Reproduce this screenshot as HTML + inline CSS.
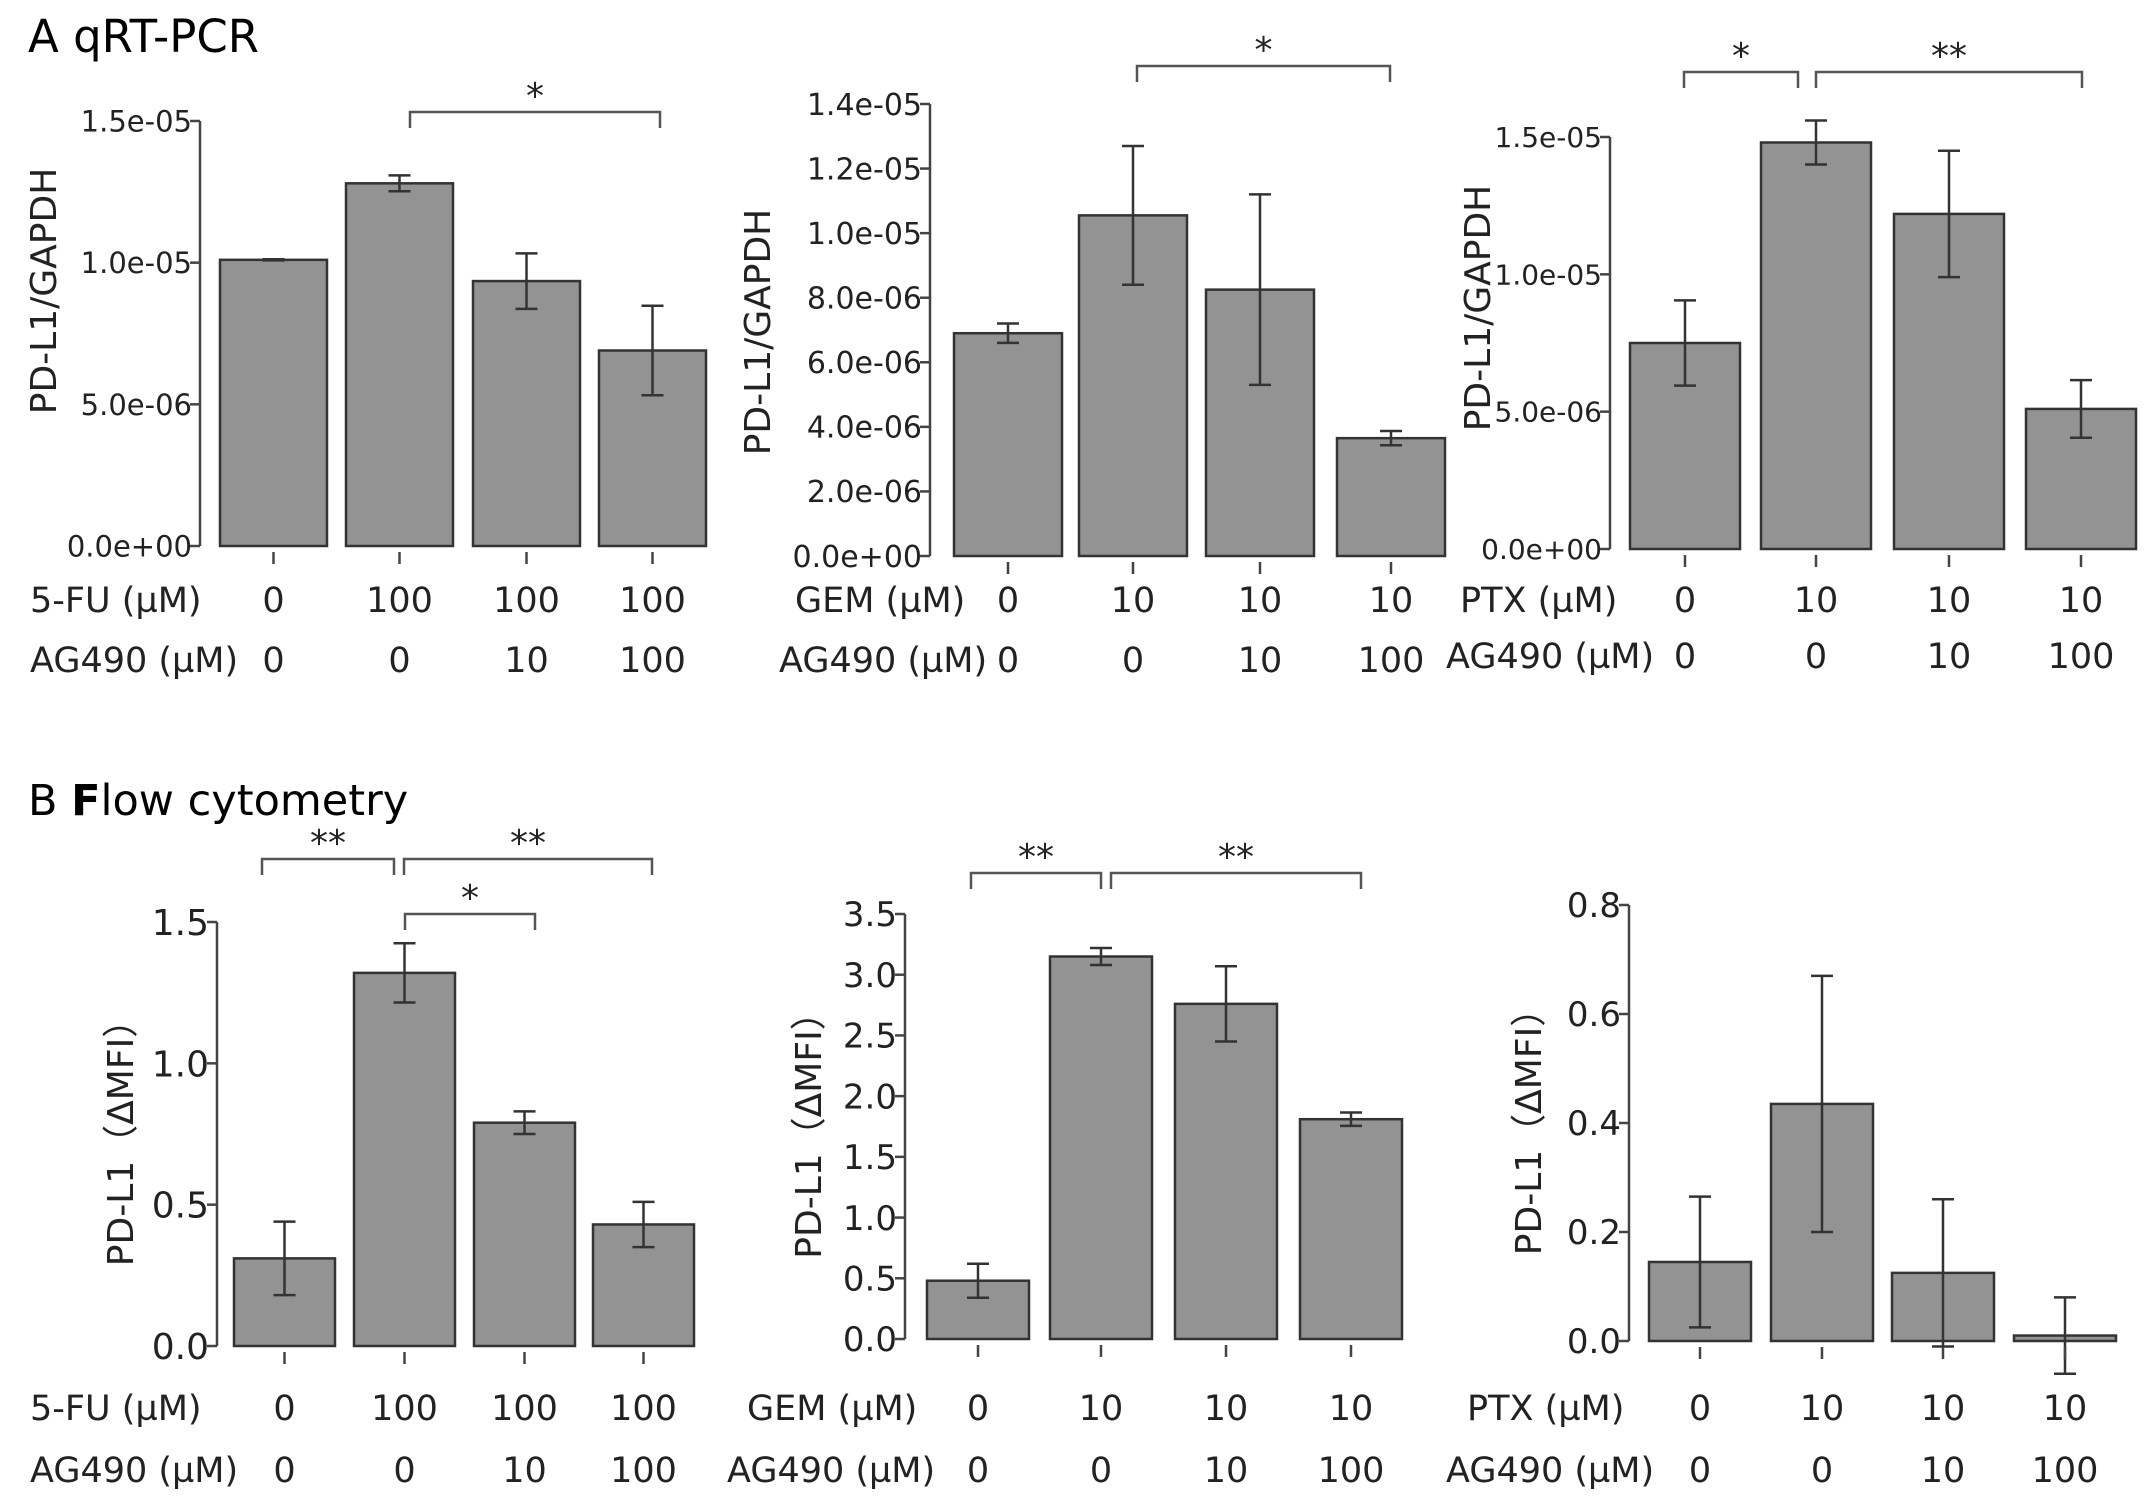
<!DOCTYPE html>
<html><head><meta charset="utf-8"><style>
html,body{margin:0;padding:0;background:#fff;}
svg{display:block;font-family:"DejaVu Sans","Liberation Sans",sans-serif;}
</style></head><body>
<svg id="fig" width="2150" height="1508" viewBox="0 0 2150 1508" xmlns="http://www.w3.org/2000/svg">
<text x="28" y="52" font-size="45">A  qRT-PCR</text>
<text x="28" y="815" font-size="43">B  <tspan font-weight="bold">F</tspan>low cytometry</text>
</svg>
<script>
// ---- data ----
const a1Values=[10.1e-6,12.8e-6,9.35e-6,6.9e-6];
const a1Err=[0.02e-6,0.28e-6,0.98e-6,1.58e-6];
const a1Ticks=[0,5e-6,1e-5,1.5e-5];
const a1TickLabels=["0.0e+00","5.0e-06","1.0e-05","1.5e-05"];
const a2Values=[6.9e-6,10.55e-6,8.25e-6,3.65e-6];
const a2Err=[0.3e-6,2.15e-6,2.95e-6,0.22e-6];
const a2Ticks=[0,2e-6,4e-6,6e-6,8e-6,1e-5,1.2e-5,1.4e-5];
const a2TickLabels=["0.0e+00","2.0e-06","4.0e-06","6.0e-06","8.0e-06","1.0e-05","1.2e-05","1.4e-05"];
const a3Values=[7.5e-6,14.8e-6,12.2e-6,5.1e-6];
const a3Err=[1.55e-6,0.8e-6,2.3e-6,1.05e-6];
const a3Ticks=[0,5e-6,1e-5,1.5e-5];
const a3TickLabels=["0.0e+00","5.0e-06","1.0e-05","1.5e-05"];
const b1Values=[0.31,1.32,0.79,0.43];
const b1Err=[0.13,0.105,0.04,0.08];
const b1Ticks=[0,0.5,1.0,1.5];
const b1TickLabels=["0.0","0.5","1.0","1.5"];
const b2Values=[0.48,3.15,2.76,1.81];
const b2Err=[0.14,0.07,0.31,0.055];
const b2Ticks=[0,0.5,1,1.5,2,2.5,3,3.5];
const b2TickLabels=["0.0","0.5","1.0","1.5","2.0","2.5","3.0","3.5"];
const b3Values=[0.145,0.435,0.125,0.01];
const b3Err=[0.12,0.235,0.135,0.07];
const b3Ticks=[0,0.2,0.4,0.6,0.8];
const b3TickLabels=["0.0","0.2","0.4","0.6","0.8"];
const drugFU=["0","100","100","100"];
const drugGEM=["0","10","10","10"];
const drugPTX=["0","10","10","10"];
const ag490=["0","0","10","100"];

const NS="http://www.w3.org/2000/svg";
const svg=document.getElementById('fig');
function mk(tag,attrs,parent,text){const e=document.createElementNS(NS,tag);for(const k in attrs)e.setAttribute(k,attrs[k]);if(text!==undefined)e.textContent=text;(parent||svg).appendChild(e);return e;}

function chart(c){
  const g=mk('g',{},svg);
  
  
  const max=c.ticks[c.ticks.length-1];
  const y=v=>c.y0-(v/max)*(c.y0-c.yTop);
  const ax=mk('line',{x1:c.ax,y1:y(0),x2:c.ax,y2:y(max),stroke:'#444','stroke-width':2.5},g);
  
  
  c.ticks.forEach((t,i)=>{
    mk('line',{x1:c.ax-10,y1:y(t),x2:c.ax,y2:y(t),stroke:'#444','stroke-width':2.5},g);
    const tl=mk('text',{x:c.ax-8,y:y(t)+c.tfs*0.36,'font-size':c.tfs,'text-anchor':'end',fill:'#222'},g,c.tickLabels[i]);
    
    
  });
  const yc=c.ylc||(c.y0+c.yTop)/2;
  const yl=mk('text',{x:c.ylx,y:yc,'font-size':c.yfs,'text-anchor':'middle',fill:'#222',transform:`rotate(-90 ${c.ylx} ${yc})`},g,c.ylabel);
  
  
  c.values.forEach((v,i)=>{
    const x0=c.bx[i], w=c.bw, cx=x0+w/2;
    const r=mk('rect',{x:x0,y:y(v),width:w,height:y(0)-y(v),fill:'#939393',stroke:'#333','stroke-width':2.5},g);
    
    
    const e=c.err[i];
    const eg=mk('g',{stroke:'#333','stroke-width':2.5},g);
    
    
    mk('line',{x1:cx,y1:y(v+e),x2:cx,y2:y(v-e)},eg);
    mk('line',{x1:cx-11,y1:y(v+e),x2:cx+11,y2:y(v+e)},eg);
    mk('line',{x1:cx-11,y1:y(v-e),x2:cx+11,y2:y(v-e)},eg);
    mk('line',{x1:cx,y1:y(0)+6,x2:cx,y2:y(0)+18,stroke:'#444','stroke-width':2.5},g);
    const l1=mk('text',{x:cx,y:c.r1,'font-size':35,'text-anchor':'middle',fill:'#222'},g,c.drug[i]);
    
    
    const l2=mk('text',{x:cx,y:c.r2,'font-size':35,'text-anchor':'middle',fill:'#222'},g,ag490[i]);
    
    
  });
  const rl1=mk('text',{x:c.rl1x,y:c.r1,'font-size':35,fill:'#222'},g,c.drugName+' (\u00b5M)');
  
  
  const rl2=mk('text',{x:c.rl2x,y:c.r2,'font-size':35,fill:'#222'},g,'AG490 (\u00b5M)');
  
  
  (c.brackets||[]).forEach(b=>{
    const bg=mk('g',{},g);
    
    
    mk('polyline',{points:`${b[0]},${b[2]+16} ${b[0]},${b[2]} ${b[1]},${b[2]} ${b[1]},${b[2]+16}`,fill:'none',stroke:'#555','stroke-width':2.5},bg);
    mk('text',{x:(b[0]+b[1])/2,y:b[2]-4,'font-size':36,'text-anchor':'middle',fill:'#222'},bg,b[3]);
  });
}
chart({name:'chart-a1-5fu',values:a1Values,err:a1Err,ticks:a1Ticks,tickLabels:a1TickLabels,ax:200,y0:546,yTop:121,bx:[220,346,473,599],bw:107,tfs:29,ylabel:'PD-L1/GAPDH',ylx:56,ylc:291,yfs:36,drug:drugFU,drugName:'5-FU',rl1x:30,rl2x:30,r1:612,r2:672,brackets:[[410,660,112,'*']]});
chart({name:'chart-a2-gem',values:a2Values,err:a2Err,ticks:a2Ticks,tickLabels:a2TickLabels,ax:930,y0:556,yTop:104,bx:[954,1079,1206,1337],bw:108,tfs:30,ylabel:'PD-L1/GAPDH',ylx:770,ylc:332,yfs:36,drug:drugGEM,drugName:'GEM',rl1x:795,rl2x:779,r1:612,r2:672,brackets:[[1137,1390,66,'*']]});
chart({name:'chart-a3-ptx',values:a3Values,err:a3Err,ticks:a3Ticks,tickLabels:a3TickLabels,ax:1610,y0:549,yTop:137,bx:[1630,1761,1894,2026],bw:110,tfs:28,ylabel:'PD-L1/GAPDH',ylx:1490,ylc:308,yfs:36,drug:drugPTX,drugName:'PTX',rl1x:1460,rl2x:1446,r1:612,r2:668,brackets:[[1684,1798,72,'*'],[1816,2082,72,'**']]});
chart({name:'chart-b1-5fu',values:b1Values,err:b1Err,ticks:b1Ticks,tickLabels:b1TickLabels,ax:217,y0:1346,yTop:922,bx:[234,354,474,593],bw:101,tfs:36,ylabel:'PD-L1\uff08\u0394MFI\uff09',ylx:133,yfs:36,drug:drugFU,drugName:'5-FU',rl1x:30,rl2x:30,r1:1420,r2:1482,brackets:[[262,394,859,'**'],[404,652,859,'**'],[405,535,914,'*']]});
chart({name:'chart-b2-gem',values:b2Values,err:b2Err,ticks:b2Ticks,tickLabels:b2TickLabels,ax:905,y0:1339,yTop:914,bx:[927,1050,1175,1300],bw:102,tfs:34,ylabel:'PD-L1\uff08\u0394MFI\uff09',ylx:821,yfs:36,drug:drugGEM,drugName:'GEM',rl1x:747,rl2x:727,r1:1420,r2:1482,brackets:[[971,1101,873,'**'],[1111,1361,873,'**']]});
chart({name:'chart-b3-ptx',values:b3Values,err:b3Err,ticks:b3Ticks,tickLabels:b3TickLabels,ax:1629,y0:1341,yTop:905,bx:[1649,1771,1892,2014],bw:102,tfs:34,ylabel:'PD-L1\uff08\u0394MFI\uff09',ylx:1541,yfs:36,drug:drugPTX,drugName:'PTX',rl1x:1467,rl2x:1446,r1:1420,r2:1482});
</script>
</body></html>
